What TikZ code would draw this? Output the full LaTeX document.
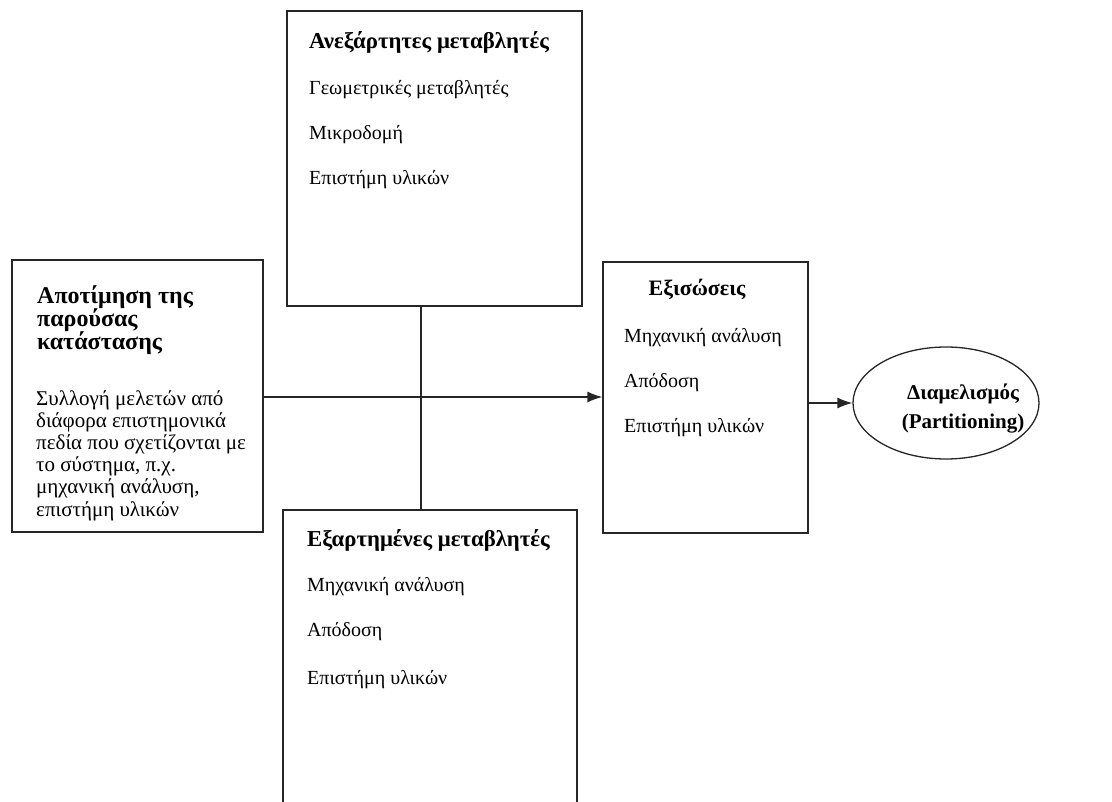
\documentclass[tikz,border=0pt]{standalone}
\usepackage{fontspec}
\setmainfont{Liberation Serif}
\usetikzlibrary{arrows.meta,shapes.geometric}
\begin{document}
\begin{tikzpicture}[x=1pt,y=-1pt,
  box/.style={draw=black!85,line width=1.3pt,inner sep=0pt},
  body/.style={font=\fontsize{20}{22}\selectfont,anchor=west,inner sep=0pt},
  head/.style={font=\fontsize{22.8}{23}\selectfont\bfseries,anchor=west,inner sep=0pt},
  conn/.style={line width=1.3pt,draw=black!85},
  arr/.style={conn,-{Latex[length=15pt,width=11pt]}}
]
\useasboundingbox (0,0) rectangle (1112,802);
\fill[white] (0,0) rectangle (1112,802);
% boxes
\node[box,minimum width=295pt,minimum height=295pt] (top) at (434.5,158.5) {};
\node[box,minimum width=294pt,minimum height=300pt] (bot) at (430,660) {};
\node[box,minimum width=251pt,minimum height=272pt] (left) at (137.5,396) {};
\node[box,minimum width=205pt,minimum height=271pt] (right) at (705.5,397.5) {};
\node[draw=black!85,line width=1.3pt,ellipse,minimum width=186pt,minimum height=112pt,inner sep=0pt] (ell) at (946,403) {};
% top box text
\node[head] (topT) at (309,42) {Ανεξάρτητες μεταβλητές};
\node[body] (top1) at (309,90) {Γεωμετρικές μεταβλητές};
\node[body] (top2) at (309,135) {Μικροδομή};
\node[body] (top3) at (309,180) {Επιστήμη υλικών};
% bottom box text
\node[head] (botT) at (307,540) {Εξαρτημένες μεταβλητές};
\node[body] (bot1) at (307,587) {Μηχανική ανάλυση};
\node[body] (bot2) at (307,632) {Απόδοση};
\node[body] (bot3) at (307,680) {Επιστήμη υλικών};
% left box text
\node[head,anchor=north west,align=left,font=\fontsize{24}{23}\selectfont\bfseries] (leftT) at (37,285) {Αποτίμηση της\\παρούσας\\κατάστασης};
\node[body,anchor=north west,align=left,font=\fontsize{21}{22.2}\selectfont] (leftB) at (36,390) {Συλλογή μελετών από\\διάφορα επιστημονικά\\πεδία που σχετίζονται με\\το σύστημα, π.χ.\\μηχανική ανάλυση,\\επιστήμη υλικών};
% right box text
\node[head,anchor=center,font=\fontsize{22}{23}\selectfont\bfseries] (rightT) at (697,289) {Εξισώσεις};
\node[body] (right1) at (624,338) {Μηχανική ανάλυση};
\node[body] (right2) at (624,383) {Απόδοση};
\node[body] (right3) at (624,428) {Επιστήμη υλικών};
% ellipse text
\node[font=\fontsize{21}{29}\selectfont\bfseries,align=center,inner sep=0pt] (ellT) at (963,409) {Διαμελισμός\\(Partitioning)};
% connectors
\coordinate (vx) at (421,0);
\coordinate (hy) at (0,397);
\draw[conn] (vx |- top.south) -- (vx |- bot.north);
\draw[arr] (left.east |- hy) -- (right.west |- hy);
\draw[arr] (right.east |- ell.west) -- (ell.west);
\end{tikzpicture}
\end{document}
